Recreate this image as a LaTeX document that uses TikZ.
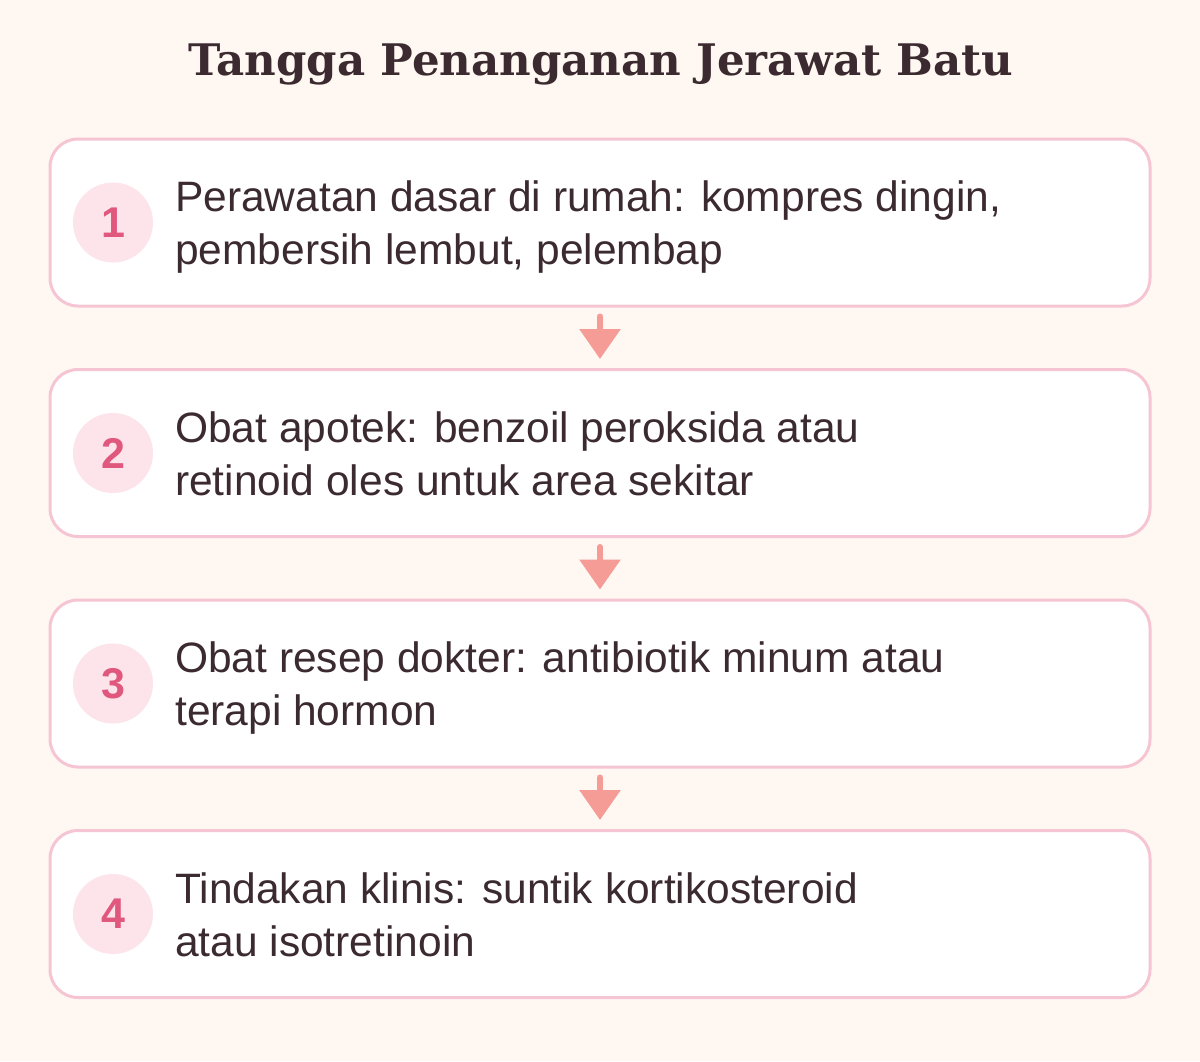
\documentclass[tikz,border=0pt]{standalone}
\usepackage{fontspec}
\setmainfont{Liberation Sans}
\newfontfamily\titlefont{DejaVu Serif}
\usetikzlibrary{arrows.meta}

\definecolor{bgcream}{HTML}{FFF7F2}
\definecolor{boxpink}{HTML}{F6C5D3}
\definecolor{numpink}{HTML}{FCE4EA}
\definecolor{numred}{HTML}{E0587E}
\definecolor{inkdark}{HTML}{3B2A2F}
\definecolor{arrowsalmon}{HTML}{F49C95}

\tikzstyle{stepbox} = [draw=boxpink, line width=3pt, fill=white, rounded corners=28pt, minimum width=1100pt, minimum height=167pt]
\tikzstyle{numdot} = [circle, fill=numpink, minimum size=80pt, inner sep=0pt, text=numred, font=\fontsize{43}{43}\selectfont\bfseries]
\tikzstyle{steptext} = [anchor=base west, align=left, text=inkdark, inner sep=0pt, font=\fontsize{42.5}{53}\selectfont]
\tikzstyle{line} = [draw=arrowsalmon, line width=6pt, line cap=round, -{Triangle[width=40pt,length=30pt]}, shorten <=9pt, shorten >=9pt]

\begin{document}
\begin{tikzpicture}[x=1pt,y=-1pt]
		
		%background
		\fill[bgcream] (0,0) rectangle (1200,1061);
		%title
		\node[anchor=base, text=inkdark, font=\titlefont\bfseries\fontsize{43.5}{43.5}\selectfont](title) at (601,75) {Tangga Penanganan Jerawat Batu};
		%boxes
		\node[stepbox](box1) at (600,222.5) {};
		\node[stepbox](box2) at (600,453) {};
		\node[stepbox](box3) at (600,683.5) {};
		\node[stepbox](box4) at (600,914) {};
		%numbers
		\node[numdot](num1) at (113,222.5) {1};
		\node[numdot](num2) at (113,453) {2};
		\node[numdot](num3) at (113,683.5) {3};
		\node[numdot](num4) at (113,914) {4};
		%texts (base = last line)
		\node[steptext](text1) at (175,264.5) {Perawatan dasar di rumah: kompres dingin,\\pembersih lembut, pelembap};
		\node[steptext](text2) at (175,495) {Obat apotek: benzoil peroksida atau\\retinoid oles untuk area sekitar};
		\node[steptext](text3) at (175,725.5) {Obat resep dokter: antibiotik minum atau\\terapi hormon};
		\node[steptext](text4) at (175,956) {Tindakan klinis: suntik kortikosteroid\\atau isotretinoin};
		%arrows
		\draw[line] (box1) -- (box2);
		\draw[line] (box2) -- (box3);
		\draw[line] (box3) -- (box4);
		\end{tikzpicture}
\end{document}
